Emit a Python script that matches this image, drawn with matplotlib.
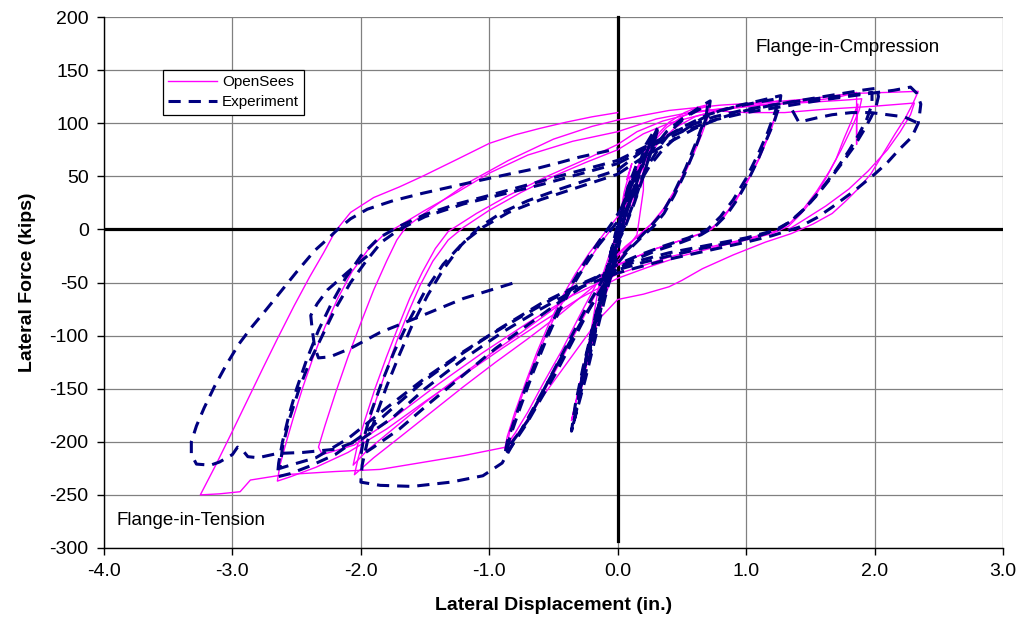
import matplotlib
matplotlib.use("Agg")
import matplotlib.pyplot as plt

plt.rcParams['font.family'] = ['Liberation Sans', 'DejaVu Sans']

# ---------------- Experiment: lateral displacement (in.) / lateral force (kips) ----------------
exp_c0_d = [0.00, 0.05, 0.10, 0.05, 0.00, -0.05, -0.10, -0.05, 0.00, 0.08, 0.15, 0.10, 0.00,
            -0.10, -0.18, -0.22, -0.12, 0.00, 0.12, 0.22, 0.28, 0.18, 0.05, -0.08, -0.20,
            -0.30, -0.35, -0.25, -0.10, 0.02]
exp_c0_f = [0, 25, 45, 22, 0, -25, -50, -20, 0, 40, 62, 40, 5, -45, -90, -115, -70, -15, 45,
            80, 92, 55, 10, -45, -110, -160, -185, -140, -65, -10]

exp_c0b_d = [0.00, 0.06, 0.12, 0.18, 0.24, 0.30, 0.26, 0.20, 0.13, 0.05, -0.05, -0.12, -0.20,
             -0.28, -0.33, -0.36, -0.33, -0.27, -0.20, -0.12, -0.05, 0.02]
exp_c0b_f = [-10, 15, 40, 60, 78, 92, 75, 50, 25, 0, -25, -55, -95, -140, -175, -190, -165,
             -130, -95, -60, -30, -5]

exp_c0c_d = [0.02, 0.10, 0.18, 0.25, 0.32, 0.28, 0.21, 0.14, 0.06, -0.03, -0.10, -0.17, -0.24,
             -0.30, -0.27, -0.20, -0.13, -0.05, 0.00]
exp_c0c_f = [-5, 30, 58, 80, 98, 80, 55, 30, 5, -20, -48, -82, -120, -155, -135, -100, -68,
             -38, -20]

exp_c1a_d = [0.00, 0.08, 0.16, 0.25, 0.35, 0.45, 0.55, 0.65, 0.72, 0.71, 0.66, 0.60, 0.52,
             0.44, 0.36, 0.28, 0.18, 0.08, 0.00, -0.10, -0.22, -0.35, -0.48, -0.60, -0.72,
             -0.82, -0.88, -0.86, -0.80, -0.72, -0.63, -0.54, -0.45, -0.35, -0.25, -0.15,
             -0.05, 0.02]
exp_c1a_f = [-5, 20, 42, 63, 82, 97, 108, 116, 121, 112, 95, 75, 52, 32, 15, 3, -8, -20, -32,
             -50, -75, -105, -135, -160, -185, -203, -213, -200, -178, -150, -122, -96, -72,
             -50, -30, -12, 5, 18]

exp_c1b_d = [0.02, 0.12, 0.25, 0.38, 0.50, 0.62, 0.70, 0.69, 0.62, 0.53, 0.44, 0.35, 0.25,
             0.12, 0.00, -0.12, -0.25, -0.40, -0.55, -0.70, -0.82, -0.86, -0.84, -0.76, -0.66,
             -0.56, -0.46, -0.36, -0.26, -0.15, -0.05, 0.05]
exp_c1b_f = [18, 45, 72, 92, 104, 112, 117, 108, 85, 58, 35, 16, 2, -14, -28, -48, -75, -110,
             -145, -180, -200, -208, -196, -168, -135, -105, -78, -55, -35, -15, 0, 15]

exp_c2a_d = [0.05, 0.15, 0.25, 0.35, 0.50, 0.65, 0.80, 0.95, 1.10, 1.27, 1.26, 1.22, 1.16,
             1.09, 1.01, 0.93, 0.85, 0.76, 0.65, 0.50, 0.30, 0.10, 0.00, -0.10, -0.25, -0.40,
             -0.55, -0.70, -0.82, -0.90, -1.05, -1.30, -1.60, -1.85, -2.00, -1.99, -1.95,
             -1.88, -1.80, -1.70, -1.60, -1.48, -1.36, -1.22, -1.08, -0.90, -0.70, -0.45,
             -0.20, 0.00]
exp_c2a_f = [15, 40, 60, 75, 92, 104, 112, 117, 121, 126, 117, 102, 85, 65, 45, 28, 14, 3,
             -5, -12, -20, -30, -36, -52, -80, -112, -145, -178, -203, -220, -232, -238, -242,
             -241, -238, -222, -200, -175, -148, -118, -90, -62, -38, -15, 2, 16, 27, 38, 48,
             56]

exp_c2b_d = [0.00, 0.15, 0.30, 0.50, 0.70, 0.90, 1.10, 1.24, 1.23, 1.17, 1.09, 1.00, 0.90,
             0.80, 0.70, 0.55, 0.35, 0.15, 0.00, -0.20, -0.45, -0.70, -0.95, -1.20, -1.45,
             -1.70, -1.90, -2.00, -1.98, -1.92, -1.84, -1.74, -1.63, -1.50, -1.36, -1.20,
             -1.05, -0.85, -0.60, -0.30, 0.00]
exp_c2b_f = [56, 70, 82, 96, 108, 115, 120, 123, 112, 92, 70, 48, 28, 12, 0, -8, -16, -25,
             -33, -48, -68, -90, -112, -137, -162, -188, -205, -213, -198, -172, -145, -115,
             -87, -58, -33, -12, 2, 16, 28, 40, 52]

exp_c3a_d = [0.00, 0.20, 0.40, 0.60, 0.80, 1.00, 1.25, 1.50, 1.75, 1.90, 2.02, 2.03, 2.01,
             1.97, 1.91, 1.84, 1.75, 1.65, 1.55, 1.45, 1.35, 1.25, 1.10, 0.90, 0.65, 0.40,
             0.20, 0.00, -0.25, -0.50, -0.75, -1.00, -1.25, -1.50, -1.75, -2.00, -2.20, -2.40,
             -2.55, -2.65, -2.64, -2.61, -2.56, -2.50, -2.42, -2.33, -2.23, -2.12, -2.00,
             -1.86, -1.70, -1.50, -1.25, -1.00, -0.70, -0.40, -0.15, 0.00]
exp_c3a_f = [52, 68, 82, 95, 105, 112, 118, 123, 128, 131, 133, 125, 115, 105, 92, 78, 63,
             47, 32, 19, 8, 0, -6, -12, -18, -25, -31, -38, -50, -65, -82, -100, -120, -142,
             -168, -195, -212, -223, -230, -233, -220, -200, -175, -150, -122, -95, -70, -46,
             -25, -8, 3, 14, 24, 32, 42, 52, 60, 65]

exp_c3b_d = [0.00, 0.25, 0.50, 0.75, 1.00, 1.30, 1.60, 1.85, 1.98, 1.98, 1.94, 1.88, 1.80,
             1.70, 1.58, 1.46, 1.34, 1.22, 1.00, 0.70, 0.40, 0.15, 0.00, -0.30, -0.60, -0.90,
             -1.20, -1.50, -1.80, -2.10, -2.35, -2.55, -2.63, -2.61, -2.56, -2.48, -2.40,
             -2.30, -2.20, -2.08, -1.96, -1.84, -1.70, -1.50, -1.20, -0.90, -0.60, -0.30, 0.00]
exp_c3b_f = [65, 80, 95, 106, 113, 119, 124, 127, 129, 118, 104, 90, 74, 56, 37, 20, 7, -1,
             -8, -15, -22, -30, -36, -52, -70, -92, -115, -140, -168, -197, -215, -222, -225,
             -205, -180, -150, -125, -100, -75, -50, -30, -12, 0, 12, 24, 33, 42, 52, 62]

exp_hook_d = [-1.95, -2.10, -2.26, -2.34, -2.39, -2.38, -2.36, -2.33, -2.24, -2.08, -1.85,
              -1.56, -1.20, -0.80]
exp_hook_f = [-25, -40, -57, -70, -81, -93, -111, -121, -120, -112, -97, -83, -65, -50]

exp_c4_d = [0.00, 0.25, 0.50, 0.75, 1.00, 1.30, 1.60, 1.90, 2.15, 2.28, 2.33, 2.36, 2.35,
            2.34, 2.29, 2.19, 2.10, 2.01, 1.85, 1.67, 1.55, 1.41, 1.20, 1.00, 0.70, 0.40, 0.15,
            0.00, -0.30, -0.60, -0.90, -1.20, -1.50, -1.75, -2.00, -2.20, -2.45, -2.65, -2.80,
            -2.88, -2.92, -2.96, -3.00, -3.10, -3.17, -3.28, -3.32, -3.32, -3.28, -3.22,
            -3.14, -3.05, -2.95, -2.85, -2.74, -2.62, -2.50, -2.36, -2.25, -2.18, -2.08,
            -1.95, -1.75, -1.52, -1.30, -1.08, -0.85, -0.61, -0.45, -0.30, -0.15, 0.00]
exp_c4_f = [62, 78, 92, 103, 110, 116, 122, 127, 131, 134, 128, 118, 108, 100, 87, 75, 63,
            53, 37, 21, 11, 2, -6, -12, -20, -28, -36, -41, -55, -75, -97, -122, -150, -177,
            -198, -207, -210, -211, -215, -214, -208, -205, -212, -219, -222, -221, -212,
            -200, -185, -168, -148, -128, -108, -92, -76, -58, -40, -20, -8, 0, 10, 19, 27,
            34, 40, 46, 52, 58, 63, 68, 72, 76]

exp_c4x_d = [1.36, 1.41, 1.55, 1.67, 1.82, 1.97, 2.10, 2.23, 2.34]
exp_c4x_f = [112, 101, 105, 108, 110, 110, 108, 106, 100]

# ---------------- OpenSees ----------------
ops_c0_d = [0.00, 0.05, 0.10, 0.07, 0.11, 0.05, 0.00, -0.08, -0.15, -0.10, 0.00, 0.12, 0.20,
            0.20, 0.15, 0.00, -0.12, -0.25, -0.18, -0.05, 0.10, 0.25, 0.30, 0.18, 0.00, -0.15,
            -0.30, -0.22, -0.08, 0.00]
ops_c0_f = [0, 30, 50, 47, 62, 35, 0, -40, -75, -45, 0, 45, 70, 37, -5, -30, -70, -130, -95,
            -40, 30, 75, 88, 45, 0, -55, -160, -115, -45, -10]

ops_c0b_d = [0.00, 0.07, 0.14, 0.22, 0.30, 0.24, 0.16, 0.08, 0.00, -0.08, -0.16, -0.24, -0.32,
             -0.36, -0.30, -0.22, -0.14, -0.06, 0.00]
ops_c0b_f = [-5, 30, 55, 75, 92, 68, 40, 12, -12, -40, -75, -115, -160, -180, -148, -110, -70,
             -35, -10]

ops_c1a_d = [0.00, 0.06, 0.12, 0.20, 0.30, 0.40, 0.52, 0.62, 0.72, 0.71, 0.65, 0.57, 0.48,
             0.38, 0.28, 0.18, 0.08, 0.00, -0.10, -0.22, -0.35, -0.48, -0.60, -0.72, -0.82,
             -0.88, -0.86, -0.80, -0.72, -0.63, -0.54, -0.44, -0.33, -0.22, -0.10, 0.00]
ops_c1a_f = [-8, 20, 45, 68, 88, 101, 110, 115, 118, 108, 88, 65, 42, 22, 7, -4, -15, -25,
             -45, -72, -102, -132, -158, -182, -200, -207, -195, -172, -145, -116, -90, -65,
             -42, -22, -3, 12]

ops_c1b_d = [0.00, 0.08, 0.16, 0.26, 0.38, 0.50, 0.62, 0.70, 0.69, 0.63, 0.55, 0.46, 0.36,
             0.26, 0.16, 0.06, -0.04, -0.16, -0.30, -0.44, -0.58, -0.70, -0.80, -0.86, -0.84,
             -0.77, -0.68, -0.59, -0.49, -0.38, -0.26, -0.14, -0.02]
ops_c1b_f = [12, 38, 60, 80, 96, 106, 113, 116, 106, 85, 62, 40, 20, 5, -6, -16, -28, -50,
             -82, -115, -145, -172, -192, -202, -190, -165, -135, -108, -82, -58, -35, -14, 5]

ops_c2a_d = [0.00, 0.10, 0.20, 0.32, 0.45, 0.60, 0.80, 1.00, 1.25, 1.24, 1.19, 1.12, 1.04,
             0.95, 0.86, 0.77, 0.68, 0.50, 0.30, 0.12, 0.00, -0.20, -0.45, -0.70, -0.95,
             -1.20, -1.45, -1.70, -1.90, -2.05, -2.02, -1.96, -1.88, -1.80, -1.72, -1.63,
             -1.54, -1.44, -1.32, -1.20, -1.00, -0.75, -0.50, -0.25, 0.00]
ops_c2a_f = [12, 40, 62, 82, 96, 106, 113, 117, 121, 111, 92, 72, 52, 34, 18, 5, -3, -10,
             -18, -27, -34, -55, -80, -103, -125, -148, -172, -196, -215, -231, -215, -190,
             -160, -132, -105, -78, -53, -30, -10, 2, 18, 35, 50, 63, 75]

ops_c2b_d = [0.00, 0.20, 0.40, 0.65, 0.90, 1.10, 1.24, 1.23, 1.17, 1.10, 1.01, 0.92, 0.83,
             0.73, 0.55, 0.30, 0.10, 0.00, -0.25, -0.50, -0.75, -1.00, -1.25, -1.50, -1.75,
             -1.95, -2.06, -2.03, -1.97, -1.89, -1.80, -1.71, -1.62, -1.52, -1.42, -1.32,
             -1.10, -0.85, -0.55, -0.25, 0.00]
ops_c2b_f = [75, 90, 100, 108, 114, 117, 119, 108, 88, 66, 45, 27, 12, 0, -8, -18, -28, -33,
             -52, -75, -97, -118, -140, -163, -188, -208, -222, -205, -180, -150, -120, -92,
             -65, -40, -18, -2, 15, 32, 50, 66, 80]

ops_c3a_d = [0.00, 0.15, 0.35, 0.60, 0.90, 1.20, 1.50, 1.70, 1.86, 1.86, 1.86, 1.87, 1.82,
             1.76, 1.70, 1.62, 1.53, 1.43, 1.33, 1.20, 1.00, 0.75, 0.50, 0.25, 0.00, -0.30,
             -0.60, -0.90, -1.20, -1.50, -1.80, -2.10, -2.35, -2.55, -2.65, -2.63, -2.58,
             -2.52, -2.45, -2.37, -2.28, -2.18, -2.07, -1.95, -1.83, -1.72, -1.50, -1.25,
             -1.00, -0.70, -0.35, 0.00]
ops_c3a_f = [80, 92, 102, 110, 115, 118, 121, 124, 129, 80, 100, 118, 102, 85, 66, 48, 30,
             15, 3, -4, -10, -17, -25, -35, -46, -65, -88, -112, -137, -162, -188, -210, -224,
             -233, -237, -222, -200, -175, -148, -120, -92, -65, -40, -20, -6, 2, 18, 35, 53,
             70, 83, 92]

ops_c3b_d = [0.00, 0.30, 0.60, 1.00, 1.40, 1.80, 1.90, 1.88, 1.82, 1.74, 1.65, 1.55, 1.45,
             1.35, 1.25, 1.00, 0.70, 0.40, 0.15, 0.00, -0.35, -0.70, -1.05, -1.40, -1.75,
             -2.05, -2.30, -2.33, -2.28, -2.20, -2.10, -2.00, -1.90, -1.80, -1.72, -1.65,
             -1.45, -1.15, -0.85, -0.50, -0.20, 0.00]
ops_c3b_f = [92, 104, 111, 116, 119, 122, 123, 112, 95, 75, 55, 36, 20, 7, -1, -9, -17, -26,
             -36, -42, -62, -88, -116, -146, -178, -203, -212, -205, -185, -155, -120, -88,
             -57, -30, -10, 2, 20, 45, 65, 85, 97, 103]

ops_c4_d = [0.00, 0.40, 0.80, 1.20, 1.50, 1.82, 2.10, 2.34, 2.30, 2.24, 2.16, 2.07, 1.97,
            1.87, 1.77, 1.67, 1.52, 1.35, 1.15, 0.90, 0.66, 0.50, 0.40, 0.20, 0.00, -0.15,
            -0.30, -0.45, -0.60, -0.75, -0.87, -1.20, -1.55, -1.85, -2.20, -2.60, -2.86,
            -2.94, -3.10, -3.25, -3.13, -3.00, -2.88, -2.76, -2.65, -2.52, -2.40, -2.29,
            -2.20, -2.08, -1.90, -1.70, -1.52, -1.25, -1.00, -0.80, -0.61, -0.40, -0.20, 0.00]
ops_c4_f = [103, 112, 117, 120, 123, 128, 129, 130, 119, 105, 90, 72, 52, 38, 26, 15, 5, -4,
            -12, -24, -37, -48, -54, -61, -66, -85, -110, -135, -160, -188, -205, -213, -220,
            -226, -228, -231, -236, -247, -249, -250, -222, -190, -160, -130, -103, -72, -45,
            -22, -2, 16, 30, 40, 50, 66, 81, 89, 95, 101, 106, 110]

ops_c5_d = [0.70, 1.00, 1.30, 1.60, 2.00, 2.31, 2.28, 2.20, 2.10, 1.95, 1.80, 1.62, 1.45,
            1.33]
ops_c5_f = [112, 110, 110, 113, 116, 119, 108, 92, 75, 55, 38, 22, 9, 0]

exp_cycles = [(exp_c0_d, exp_c0_f), (exp_c0b_d, exp_c0b_f), (exp_c0c_d, exp_c0c_f),
              (exp_c1a_d, exp_c1a_f), (exp_c1b_d, exp_c1b_f),
              (exp_c2a_d, exp_c2a_f), (exp_c2b_d, exp_c2b_f), (exp_c3a_d, exp_c3a_f),
              (exp_c3b_d, exp_c3b_f), (exp_hook_d, exp_hook_f), (exp_c4_d, exp_c4_f),
              (exp_c4x_d, exp_c4x_f)]
ops_cycles = [(ops_c0_d, ops_c0_f), (ops_c0b_d, ops_c0b_f),
              (ops_c1a_d, ops_c1a_f), (ops_c1b_d, ops_c1b_f),
              (ops_c2a_d, ops_c2a_f), (ops_c2b_d, ops_c2b_f), (ops_c3a_d, ops_c3a_f),
              (ops_c3b_d, ops_c3b_f), (ops_c4_d, ops_c4_f), (ops_c5_d, ops_c5_f)]

x_ticks = [-4.0, -3.0, -2.0, -1.0, 0.0, 1.0, 2.0, 3.0]
y_ticks = [-300, -250, -200, -150, -100, -50, 0, 50, 100, 150, 200]

fig = plt.figure(figsize=(10.26, 6.37), dpi=100)
ax = fig.add_axes([104 / 1026, 1 - 548 / 637, 899 / 1026, 531 / 637])

ax.set_xlim(-4, 3)
ax.set_ylim(-300, 200)
ax.set_xticks(x_ticks)
ax.set_yticks(y_ticks)
ax.set_xticklabels([f"{v:.1f}" for v in x_ticks])
ax.set_yticklabels([f"{v:d}" for v in y_ticks])
ax.grid(True, color='#808080', linewidth=0.9)
ax.set_axisbelow(True)

for side in ('top', 'right'):
    ax.spines[side].set_visible(False)
for side in ('left', 'bottom'):
    ax.spines[side].set_color('black')
    ax.spines[side].set_linewidth(1.0)
ax.tick_params(direction='out', length=5, width=1.0, labelsize=14, pad=6)

# reference axes through the origin
ax.axhline(0, color='black', linewidth=2.3, zorder=1.5)
ax.plot([0, 0], [-293, 200], color='black', linewidth=2.3, zorder=1.5, clip_on=False)

for i, (d, f) in enumerate(ops_cycles):
    ax.plot(d, f, color='#FF00FF', linewidth=1.0, zorder=2,
            label='OpenSees' if i == 0 else None)
for i, (d, f) in enumerate(exp_cycles):
    ax.plot(d, f, color='#000080', linewidth=2.2, dashes=(4, 2.6), zorder=3,
            label='Experiment' if i == 0 else None)

leg = ax.legend(loc='upper left', bbox_to_anchor=(59 / 899, 1 - 53 / 531), fontsize=11,
                frameon=True, fancybox=False, edgecolor='black', framealpha=1,
                handlelength=3.2, handletextpad=0.3, borderpad=0.35, labelspacing=0.4,
                borderaxespad=0)
leg.get_frame().set_linewidth(0.9)

ax.text(1.07, 171, 'Flange-in-Cmpression', fontsize=13.5, ha='left', va='center')
ax.text(-3.9, -274, 'Flange-in-Tension', fontsize=13.5, ha='left', va='center')

ax.set_xlabel('Lateral Displacement (in.)', fontsize=14, fontweight='bold', labelpad=12)
ax.set_ylabel('Lateral Force (kips)', fontsize=14, fontweight='bold', labelpad=10)

fig.savefig('out.png', dpi=100)
